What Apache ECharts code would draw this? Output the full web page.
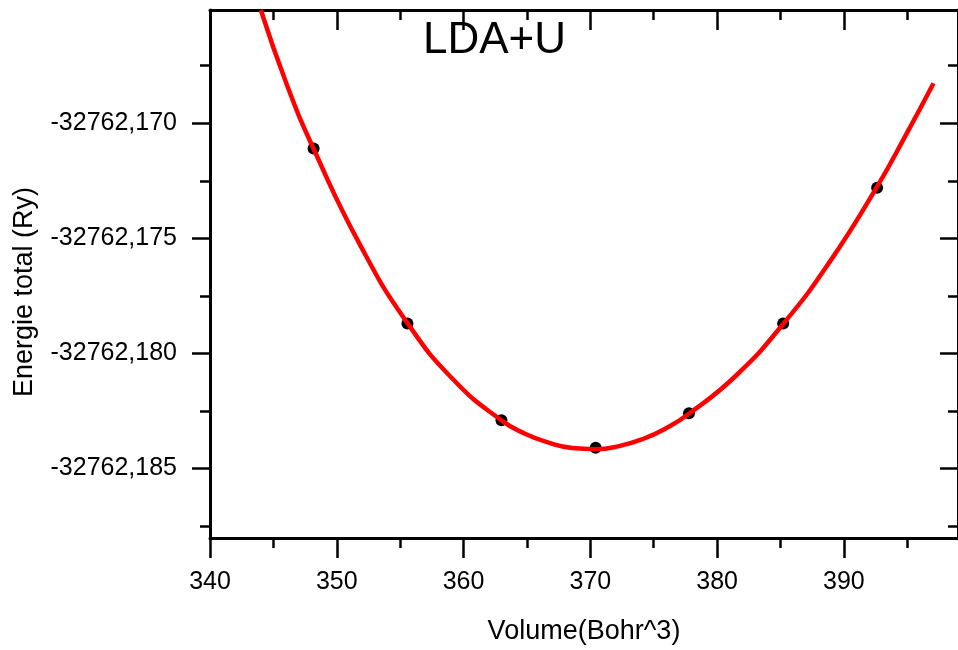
<!DOCTYPE html>
<html>
<head>
<meta charset="utf-8">
<script src="https://cdn.jsdelivr.net/npm/echarts@6/dist/echarts.min.js"></script>
<style>
html,body{margin:0;padding:0;background:#fff;}
#chart{width:958px;height:650px;}
</style>
</head>
<body>
<div id="chart"></div>
<script>
// Measured points (Volume in Bohr^3, Energy in Ry)
const volumes = [348.17, 355.57, 362.99, 370.42, 377.78, 385.21, 392.62];
const energies = [-32762.1711, -32762.1787, -32762.1829, -32762.1841, -32762.1826, -32762.1787, -32762.1728];

// Fitted curve
const fitVolumes = [344.01, 346.10, 348.17, 351.87, 355.57, 359.28, 362.99, 364.85, 366.71, 368.57, 370.42, 372.26, 374.10, 375.94, 377.78, 381.50, 385.21, 388.92, 392.62, 394.85, 397.07];
const fitEnergies = [-32762.16508, -32762.16838, -32762.17111, -32762.17532, -32762.17868, -32762.18119, -32762.18291, -32762.18349, -32762.18388, -32762.18411, -32762.18416, -32762.18403, -32762.18373, -32762.18326, -32762.18262, -32762.18096, -32762.17872, -32762.17599, -32762.17275, -32762.17055, -32762.16826];

// Axis ticks
const xMajorTicks = [340, 350, 360, 370, 380, 390];
const xMinorTicks = [345, 355, 365, 375, 385, 395];
const yMajorTicks = [-32762.185, -32762.180, -32762.175, -32762.170];
const yMinorTicks = [-32762.1875, -32762.1825, -32762.1775, -32762.1725, -32762.1675];

const xMin = 340, xMax = 399;
const yMin = -32762.18802, yMax = -32762.16508;

const FONT = 'Liberation Sans, Arial, sans-serif';
const black = '#000';

function xAxisDef(pos, ticks, len, inside, withLabel, showLine) {
  return {
    type: 'value', position: pos, min: xMin, max: xMax,
    axisLine: { show: showLine, onZero: false, lineStyle: { color: black, width: 3 } },
    axisTick: { show: true, inside: inside, length: len, customValues: ticks, lineStyle: { color: black, width: 2.5 } },
    axisLabel: { show: withLabel, customValues: ticks, fontSize: 25, fontFamily: FONT, color: black, margin: 32 },
    splitLine: { show: false }
  };
}
function yAxisDef(pos, ticks, len, inside, withLabel, showLine) {
  return {
    type: 'value', position: pos, min: yMin, max: yMax,
    axisLine: { show: showLine, onZero: false, lineStyle: { color: black, width: 3 } },
    axisTick: { show: true, inside: inside, length: len, customValues: ticks, lineStyle: { color: black, width: 2.5 } },
    axisLabel: { show: withLabel, customValues: ticks, fontSize: 25, fontFamily: FONT, color: black, margin: 33,
      formatter: v => v.toFixed(3).replace('.', ',') },
    splitLine: { show: false }
  };
}

const xb = xAxisDef('bottom', xMajorTicks, 20, false, true, true);
xb.name = 'Volume(Bohr^3)';
xb.nameLocation = 'middle';
xb.nameGap = 80;
xb.nameTextStyle = { fontSize: 27, fontFamily: FONT, color: black };

const yl = yAxisDef('left', yMajorTicks, 18, false, true, true);
yl.name = 'Energie total (Ry)';
yl.nameLocation = 'middle';
yl.nameGap = 172;
yl.nameTextStyle = { fontSize: 27, fontFamily: FONT, color: black, padding: [0, 36, 0, 0] };

const chart = echarts.init(document.getElementById('chart'), null, { renderer: 'canvas' });
chart.setOption({
  backgroundColor: '#fff',
  animation: false,
  title: {
    text: 'LDA+U', left: 418, top: 14,
    textStyle: { fontSize: 44, fontWeight: 'normal', fontFamily: FONT, color: black }
  },
  grid: { left: 210, top: 10, right: -3, bottom: 111.3, containLabel: false },
  xAxis: [
    xb,
    xAxisDef('bottom', xMinorTicks, 10, false, false, false),
    xAxisDef('top', xMajorTicks, 20, true, false, true),
    xAxisDef('top', xMinorTicks, 10, true, false, false)
  ],
  yAxis: [
    yl,
    yAxisDef('left', yMinorTicks, 10, false, false, false),
    yAxisDef('right', yMajorTicks, 18, true, false, true),
    yAxisDef('right', yMinorTicks, 10, true, false, false)
  ],
  series: [
    {
      type: 'scatter', xAxisIndex: 0, yAxisIndex: 0,
      data: volumes.map((v, i) => [v, energies[i]]),
      symbol: 'circle', symbolSize: 12,
      itemStyle: { color: black, opacity: 1 }, z: 2
    },
    {
      type: 'line', xAxisIndex: 0, yAxisIndex: 0,
      data: fitVolumes.map((v, i) => [v, fitEnergies[i]]),
      smooth: 0.5, showSymbol: false, clip: true,
      lineStyle: { color: '#ff0000', width: 4.5 }, z: 3
    }
  ]
});
</script>
</body>
</html>
